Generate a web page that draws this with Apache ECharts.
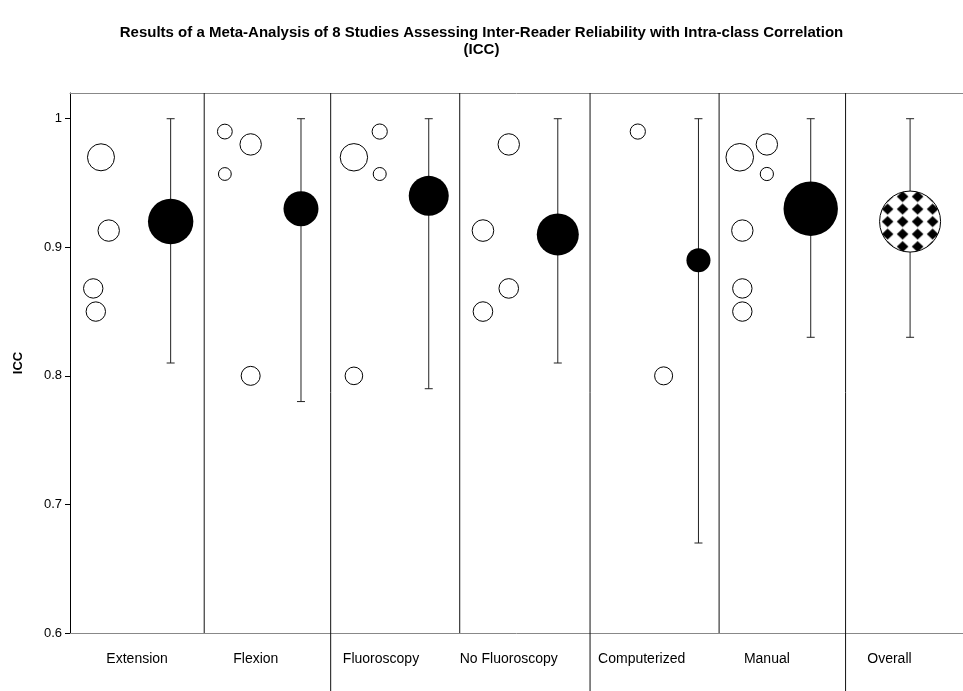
<!DOCTYPE html>
<html>
<head>
<meta charset="utf-8">
<title>ICC meta-analysis</title>
<script src="https://cdn.jsdelivr.net/npm/echarts@6/dist/echarts.min.js"></script>
<style>
  html, body { margin: 0; padding: 0; background: #fff; }
  #chart { width: 963px; height: 691px; }
</style>
</head>
<body>
<div id="chart"></div>
<script>
// Subgroups along the horizontal axis
const groups = ['Extension', 'Flexion', 'Fluoroscopy', 'No Fluoroscopy', 'Computerized', 'Manual', 'Overall'];
const groupLabelX = [0.52, 1.44, 2.41, 3.40, 4.43, 5.40, 6.35];
// Column boundaries; the long ones separate the subgroup pairs
const dividerX = [1.04, 2.02, 3.02, 4.03, 5.03, 6.01];
const dividerLong = [false, true, false, true, false, true];

// Individual study results within each subgroup
const studyX = [
  0.24, 0.30, 0.18, 0.20,          // Extension
  1.20, 1.40, 1.20, 1.40,          // Flexion
  2.40, 2.20, 2.40, 2.20,          // Fluoroscopy
  3.40, 3.20, 3.40, 3.20,          // No Fluoroscopy
  4.40, 4.60,                      // Computerized
  5.19, 5.40, 5.40, 5.21, 5.21, 5.21 // Manual
];
const studyICC = [
  0.97, 0.913, 0.868, 0.85,
  0.99, 0.98, 0.957, 0.80,
  0.99, 0.97, 0.957, 0.80,
  0.98, 0.913, 0.868, 0.85,
  0.99, 0.80,
  0.97, 0.98, 0.957, 0.913, 0.868, 0.85
];
const studyWeight = [
  13.5, 10.7, 9.7, 9.7,
  7.4, 10.7, 6.4, 9.5,
  7.6, 13.7, 6.5, 8.8,
  10.7, 10.8, 9.8, 9.8,
  7.6, 9.0,
  13.8, 10.7, 6.6, 10.7, 9.7, 9.7
];

// Pooled estimates with confidence intervals
const pooledX = [0.78, 1.79, 2.78, 3.78, 4.87, 5.74, 6.51];
const pooledICC = [0.92, 0.93, 0.94, 0.91, 0.89, 0.93, 0.92];
const pooledLow = [0.81, 0.78, 0.79, 0.81, 0.67, 0.83, 0.83];
const pooledHigh = [1.0, 1.0, 1.0, 1.0, 1.0, 1.0, 1.0];
const pooledWeight = [22.7, 17.5, 20.0, 21.0, 12.0, 27.2, 30.5];

const yTicks = [0.6, 0.7, 0.8, 0.9, 1];
const X_MIN = 0, X_MAX = 6.92, Y_MIN = 0.6, Y_MAX = 1.02;
const FONT = '"Liberation Sans", Arial, sans-serif';

// Diamond checker tile for the overall estimate (two rows of diamonds)
const TILE_W = 15, TILE_H = 25;
function diamondTile() {
  const c = document.createElement('canvas');
  c.width = TILE_W; c.height = TILE_H;
  const g = c.getContext('2d');
  g.fillStyle = '#fff';
  g.fillRect(0, 0, TILE_W, TILE_H);
  g.fillStyle = '#000';
  g.filter = 'blur(0.4px)';
  [6.25, 18.75].forEach(cy => {
    g.beginPath();
    g.moveTo(7.5, cy - 5.6);
    g.lineTo(13.3, cy);
    g.lineTo(7.5, cy + 5.6);
    g.lineTo(1.7, cy);
    g.closePath();
    g.fill();
  });
  return c;
}
const tile = diamondTile();

const studyData = studyX.map((x, i) => [x, studyICC[i], studyWeight[i]]);
const pooledData = pooledX.slice(0, 6).map((x, i) => [x, pooledICC[i], pooledWeight[i]]);
const overallData = [[pooledX[6], pooledICC[6], pooledWeight[6]]];
const ciData = pooledX.map((x, i) => [x, pooledLow[i], pooledHigh[i]]);
const dividerData = dividerX.map((x, i) => [x, dividerLong[i] ? 0.55 : Y_MIN, Y_MAX]);
const labelData = groups.map((g, i) => [groupLabelX[i], Y_MIN]);

const chart = echarts.init(document.getElementById('chart'), null, { renderer: 'canvas' });

const frameAxis = (pos) => ({
  type: 'value', min: X_MIN, max: X_MAX, position: pos,
  axisLine: { show: true, onZero: false, lineStyle: { color: '#888', width: 1 } },
  axisTick: { show: false }, axisLabel: { show: false }, splitLine: { show: false }
});

const option = {
  animation: false,
  backgroundColor: '#fff',
  title: {
    text: 'Results of a Meta-Analysis of 8 Studies Assessing Inter-Reader Reliability with Intra-class Correlation\n(ICC)',
    left: 'center',
    top: 19,
    textStyle: { fontFamily: FONT, fontSize: 15, fontWeight: 'bold', color: '#000', lineHeight: 17 }
  },
  grid: { left: 70, top: 93, right: 0, bottom: 58, show: false },
  xAxis: [frameAxis('bottom'), frameAxis('top')],
  yAxis: {
    type: 'value', min: Y_MIN, max: Y_MAX, interval: 0.1,
    name: 'ICC', nameLocation: 'middle', nameGap: 45,
    nameTextStyle: { fontFamily: FONT, fontSize: 13, fontWeight: 'bold', color: '#000' },
    axisLine: { show: true, lineStyle: { color: '#000', width: 1 } },
    axisTick: { show: true, length: 5, customValues: yTicks, lineStyle: { color: '#000' } },
    axisLabel: { customValues: yTicks, margin: 8, fontFamily: FONT, fontSize: 13, color: '#000' },
    splitLine: { show: false }
  },
  series: [
    {
      // column dividers
      type: 'custom', clip: false, silent: true, z: 1,
      data: dividerData,
      renderItem: (params, api) => {
        const a = api.coord([api.value(0), api.value(1)]);
        const b = api.coord([api.value(0), api.value(2)]);
        return { type: 'line', shape: { x1: a[0], y1: a[1], x2: b[0], y2: b[1] }, style: { stroke: '#111', lineWidth: 1 } };
      }
    },
    {
      // confidence intervals
      type: 'custom', clip: false, silent: true, z: 2,
      data: ciData,
      renderItem: (params, api) => {
        const lo = api.coord([api.value(0), api.value(1)]);
        const hi = api.coord([api.value(0), api.value(2)]);
        const w = 4;
        const st = { stroke: '#222', lineWidth: 1 };
        return {
          type: 'group',
          children: [
            { type: 'line', shape: { x1: lo[0], y1: lo[1], x2: hi[0], y2: hi[1] }, style: st },
            { type: 'line', shape: { x1: lo[0] - w, y1: lo[1], x2: lo[0] + w, y2: lo[1] }, style: st },
            { type: 'line', shape: { x1: hi[0] - w, y1: hi[1], x2: hi[0] + w, y2: hi[1] }, style: st }
          ]
        };
      }
    },
    {
      // individual studies
      type: 'scatter', z: 3,
      data: studyData,
      symbol: 'circle',
      symbolSize: v => v[2] * 2,
      itemStyle: { color: '#fff', borderColor: '#000', borderWidth: 1, opacity: 1 }
    },
    {
      // pooled subgroup estimates
      type: 'scatter', z: 4,
      data: pooledData,
      symbol: 'circle',
      symbolSize: v => v[2] * 2,
      itemStyle: { color: '#000', borderColor: '#000', borderWidth: 0, opacity: 1 }
    },
    {
      // overall estimate, diamond-checker fill anchored on the circle centre
      type: 'custom', clip: false, z: 4,
      data: overallData,
      renderItem: (params, api) => {
        const c = api.coord([api.value(0), api.value(1)]);
        return {
          type: 'circle',
          shape: { cx: c[0], cy: c[1], r: api.value(2) },
          style: {
            fill: { image: tile, repeat: 'repeat', x: c[0] - TILE_W, y: c[1] - 6.25 },
            stroke: '#000', lineWidth: 1
          }
        };
      }
    },
    {
      // subgroup labels under the axis
      type: 'custom', clip: false, silent: true, z: 5,
      data: labelData,
      renderItem: (params, api) => {
        const p = api.coord([api.value(0), api.value(1)]);
        return {
          type: 'text',
          x: p[0], y: p[1] + 26,
          style: {
            text: groups[params.dataIndex],
            fontFamily: FONT, fontSize: 14, fill: '#000',
            align: 'center', verticalAlign: 'middle'
          }
        };
      }
    }
  ]
};

chart.setOption(option);
</script>
</body>
</html>
